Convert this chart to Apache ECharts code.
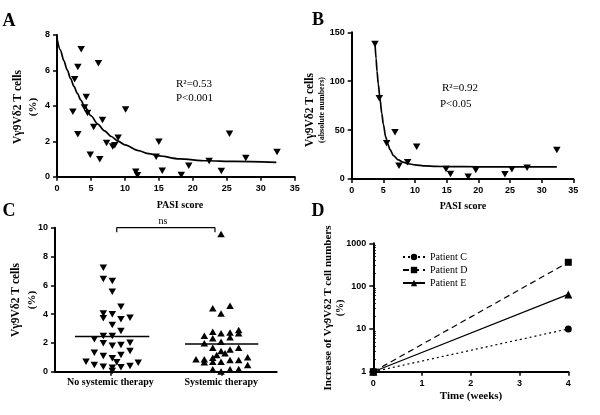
<!DOCTYPE html>
<html><head><meta charset="utf-8">
<script src="https://cdn.jsdelivr.net/npm/echarts@6/dist/echarts.min.js"></script>
<style>html,body{margin:0;padding:0;background:#fff}#c{width:600px;height:415px}</style>
</head><body><div id="c"></div>
<script>
// ---------- Panel A: % cells vs PASI ----------
const pasiA = [3.56,3.07,6.1,2.6,4.3,2.34,4.05,4.5,10.1,6.7,5.4,3.07,7.3,8.2,8.5,9.0,4.9,6.3,15.0,14.6,11.6,11.85,15.5,18.3,19.4,22.4,24.2,25.4,27.8,32.4];
const pctA  = [7.2,6.2,6.4,5.5,4.5,3.67,3.9,3.6,3.8,3.2,2.8,2.4,1.9,1.7,1.77,2.2,1.24,0.98,1.98,1.13,0.28,0.08,0.34,0.1,0.62,0.89,0.32,2.43,1.06,1.4];
const fitAx = [0,0.5,1,1.5,2,2.5,3,3.5,4,5,6,7,8,9,10,12,13.5,15,18,22,26,32.3];
const fitAy = [7.8,7.15,6.56,6.03,5.54,5.10,4.70,4.33,4.01,3.44,2.97,2.59,2.27,2.01,1.80,1.47,1.30,1.18,1.01,0.90,0.86,0.81];
// ---------- Panel B: absolute numbers vs PASI ----------
const pasiB = [3.68,4.36,5.52,6.84,7.47,8.84,10.26,14.9,15.6,18.4,19.6,24.2,25.3,27.7,32.4];
const absB  = [138,82.5,36.5,47.7,13.6,17,33,10.2,5.1,2.4,9.2,4.8,9.9,11.6,29.7];
const fitBx = [3.68,3.85,4.0,4.2,4.47,4.75,5.0,5.37,5.7,6.05,6.6,7.36,8.1,8.94,10,11.6,13.3,15.3,20,32.4];
const fitBy = [139,123,110,97,82,67,56,43,36,30,24,19.5,17.2,15.6,14.5,13.4,12.9,12.7,12.5,12.5];
// ---------- Panel C: therapy groups ----------
const groups = ['No systemic therapy','Systemic therapy'];
const noSysX = [0.436,0.436,0.517,0.517,0.595,0.436,0.517,0.436,0.595,0.677,0.517,0.595,0.436,0.517,0.355,0.436,0.517,0.595,0.677,0.355,0.436,0.517,0.595,0.677,0.280,0.355,0.436,0.517,0.557,0.595,0.677,0.751,0.517];
const noSysY = [7.22,6.44,6.30,5.56,4.51,4.05,3.99,3.71,3.64,3.75,3.24,2.83,2.48,2.48,2.25,1.97,1.81,1.85,2.01,1.32,1.09,0.93,1.16,1.44,0.69,0.46,0.35,0.28,0.65,0.31,0.40,0.63,0.05];
const sysX = [1.498,1.423,1.579,1.498,1.347,1.423,1.498,1.579,1.657,1.657,1.423,1.579,1.347,1.498,1.423,1.657,1.498,1.579,1.459,1.534,1.272,1.347,1.423,1.738,1.347,1.423,1.498,1.579,1.657,1.738,1.423,1.579,1.657,1.498];
const sysY = [9.56,4.40,4.58,4.05,2.50,2.78,2.67,2.73,2.90,2.67,2.32,2.39,1.97,2.08,1.67,1.67,1.44,1.55,1.16,1.28,0.86,0.86,0.97,1.00,0.65,0.69,0.69,0.81,0.81,0.46,0.17,0.17,0.19,0.02];
const medianNo = 2.45, medianSys = 1.92;
const medianNoSpan = [0.18,0.851], medianSysSpan = [1.173,1.834];
const bracketX = [0.557,1.443], bracketY = [9.68,10];
// ---------- Panel D: increase over time ----------
const weeks = [0,4];
const patients = ['Patient C','Patient D','Patient E'];
const incC = [1,10], incD = [1,360], incE = [1,64];
const logMinorTicks = [2,3,4,5,6,7,8,9,20,30,40,50,60,70,80,90,200,300,400,500,600,700,800,900];

const SERIF = '"Liberation Serif","Times New Roman",serif';
const SANS = '"Liberation Sans",Arial,sans-serif';
const zip = (xs, ys) => xs.map((x,i)=>[x, ys[i]]);

function ax(o){
  return Object.assign({
    axisLine:{show:true,onZero:false,lineStyle:{color:'#000',width:2}},
    axisTick:{show:true,length:4,lineStyle:{color:'#000',width:1.5}},
    axisLabel:{color:'#000',fontFamily:SANS,fontWeight:'bold',fontSize:9,margin:7},
    splitLine:{show:false}
  }, o);
}
function txt(x,y,text,font){
  return {type:'text',x:x,y:y,style:{text:text,font:font,fill:'#000',textAlign:'center',textVerticalAlign:'middle'}};
}
function vtitle(x,y,line1,line2,f1,f2,lh){
  return {type:'text',x:x,y:y,rotation:Math.PI/2,style:{
    text:'{a|'+line1+'}\n{b|'+line2+'}',align:'center',verticalAlign:'middle',fill:'#000',
    rich:{a:{fontFamily:SERIF,fontWeight:'bold',fontSize:f1,lineHeight:lh,align:'center'},
          b:{fontFamily:SERIF,fontWeight:'bold',fontSize:f2,lineHeight:lh,align:'center'}}}};
}

const chart = echarts.init(document.getElementById('c'));
const black = {color:'#000',opacity:1};
const triDown = {symbol:'triangle',symbolRotate:180,symbolSize:[7.5,6.5],itemStyle:black};

chart.setOption({
  animation:false,
  backgroundColor:'#fff',
  grid:[
    {left:57,top:35,width:237.7,height:141.7},
    {left:351.7,top:32.3,width:221.6,height:146.7},
    {left:55,top:227.7,width:221.7,height:144},
    {left:373.3,top:243.3,width:195,height:128.4}
  ],
  xAxis:[
    ax({gridIndex:0,type:'value',min:0,max:35,interval:5}),
    ax({gridIndex:1,type:'value',min:0,max:35,interval:5}),
    ax({gridIndex:2,type:'category',data:groups,axisTick:{show:true,alignWithLabel:true,length:4,lineStyle:{color:'#000',width:1.5}},
        axisLabel:{color:'#000',fontFamily:SERIF,fontWeight:'bold',fontSize:10,margin:6,interval:0}}),
    {gridIndex:2,type:'value',min:0,max:2,show:false},
    ax({gridIndex:3,type:'value',min:0,max:4,interval:1})
  ],
  yAxis:[
    ax({gridIndex:0,type:'value',min:0,max:8,interval:2}),
    ax({gridIndex:1,type:'value',min:0,max:150,interval:50}),
    ax({gridIndex:2,type:'value',min:0,max:10,interval:2}),
    ax({gridIndex:3,type:'log',logBase:10,min:1,max:1000,
        axisLabel:{color:'#000',fontFamily:SANS,fontWeight:'bold',fontSize:9,margin:7,formatter:v=>String(v)}}),
    {gridIndex:3,type:'log',logBase:10,min:1,max:1000,
        axisLine:{show:false},axisLabel:{show:false},splitLine:{show:false},
        axisTick:{show:true,length:2.5,customValues:logMinorTicks,lineStyle:{color:'#000',width:1}}}
  ],
  legend:{
    left:397,top:247,orient:'vertical',itemGap:3,itemWidth:22,itemHeight:8,
    textStyle:{fontFamily:SERIF,fontSize:10,color:'#000'},
    data:patients
  },
  series:[
    Object.assign({type:'scatter',xAxisIndex:0,yAxisIndex:0,data:zip(pasiA,pctA)},triDown),
    {type:'line',xAxisIndex:0,yAxisIndex:0,data:zip(fitAx,fitAy),smooth:0.3,smoothMonotone:'x',showSymbol:false,symbol:'none',lineStyle:{color:'#000',width:1.7}},
    Object.assign({type:'scatter',xAxisIndex:1,yAxisIndex:1,data:zip(pasiB,absB)},triDown),
    {type:'line',xAxisIndex:1,yAxisIndex:1,data:zip(fitBx,fitBy),smooth:0.3,smoothMonotone:'x',showSymbol:false,symbol:'none',lineStyle:{color:'#000',width:1.7}},
    Object.assign({type:'scatter',xAxisIndex:3,yAxisIndex:2,data:zip(noSysX,noSysY)},triDown),
    {type:'scatter',xAxisIndex:3,yAxisIndex:2,data:zip(sysX,sysY),symbol:'triangle',symbolSize:[7.5,6.5],itemStyle:black},
    {type:'line',xAxisIndex:3,yAxisIndex:2,data:[[medianNoSpan[0],medianNo],[medianNoSpan[1],medianNo]],symbol:'none',lineStyle:{color:'#000',width:1.5}},
    {type:'line',xAxisIndex:3,yAxisIndex:2,data:[[medianSysSpan[0],medianSys],[medianSysSpan[1],medianSys]],symbol:'none',lineStyle:{color:'#000',width:1.5}},
    {type:'line',xAxisIndex:3,yAxisIndex:2,clip:false,symbol:'none',
      data:[[bracketX[0],bracketY[0]],[bracketX[0],bracketY[1]],[bracketX[1],bracketY[1]],[bracketX[1],bracketY[0]]],
      lineStyle:{color:'#000',width:1.2}},
    {name:'Patient C',type:'line',xAxisIndex:4,yAxisIndex:3,data:zip(weeks,incC),symbol:'circle',symbolSize:7,
      itemStyle:black,lineStyle:{color:'#000',width:1.2,type:[2,3]}},
    {name:'Patient D',type:'line',xAxisIndex:4,yAxisIndex:3,data:zip(weeks,incD),symbol:'rect',symbolSize:7,
      itemStyle:black,lineStyle:{color:'#000',width:1.2,type:[6,4]}},
    {name:'Patient E',type:'line',xAxisIndex:4,yAxisIndex:3,data:zip(weeks,incE),symbol:'triangle',symbolSize:8,
      itemStyle:black,lineStyle:{color:'#000',width:1.2}}
  ],
  graphic:[
    txt(9,21,'A','bold 18px '+SERIF),
    txt(318,20,'B','bold 18px '+SERIF),
    txt(9,211,'C','bold 18px '+SERIF),
    txt(318,211,'D','bold 18px '+SERIF),
    txt(180,205,'PASI score','bold 10px '+SERIF),
    txt(463,206,'PASI score','bold 10px '+SERIF),
    txt(471,396,'Time (weeks)','bold 11px '+SERIF),
    txt(163,221,'ns','10px '+SERIF),
    {type:'text',x:176,y:84,style:{text:'R²=0.53',font:'11px '+SERIF,fill:'#000',textVerticalAlign:'middle'}},
    {type:'text',x:176,y:98.5,style:{text:'P<0.001',font:'11px '+SERIF,fill:'#000',textVerticalAlign:'middle'}},
    {type:'text',x:442,y:88,style:{text:'R²=0.92',font:'11px '+SERIF,fill:'#000',textVerticalAlign:'middle'}},
    {type:'text',x:440,y:104,style:{text:'P<0.05',font:'11px '+SERIF,fill:'#000',textVerticalAlign:'middle'}},
    vtitle(26,107,'Vγ9Vδ2 T cells','(%)',11.5,11,15),
    vtitle(316,110,'Vγ9Vδ2 T cells','(absolute numbers)',11.5,8,12),
    vtitle(24,300,'Vγ9Vδ2 T cells','(%)',11.5,11,16),
    vtitle(334,308,'Increase of Vγ9Vδ2 T cell numbers','(%)',11,10,12)
  ]
});
</script></body></html>
